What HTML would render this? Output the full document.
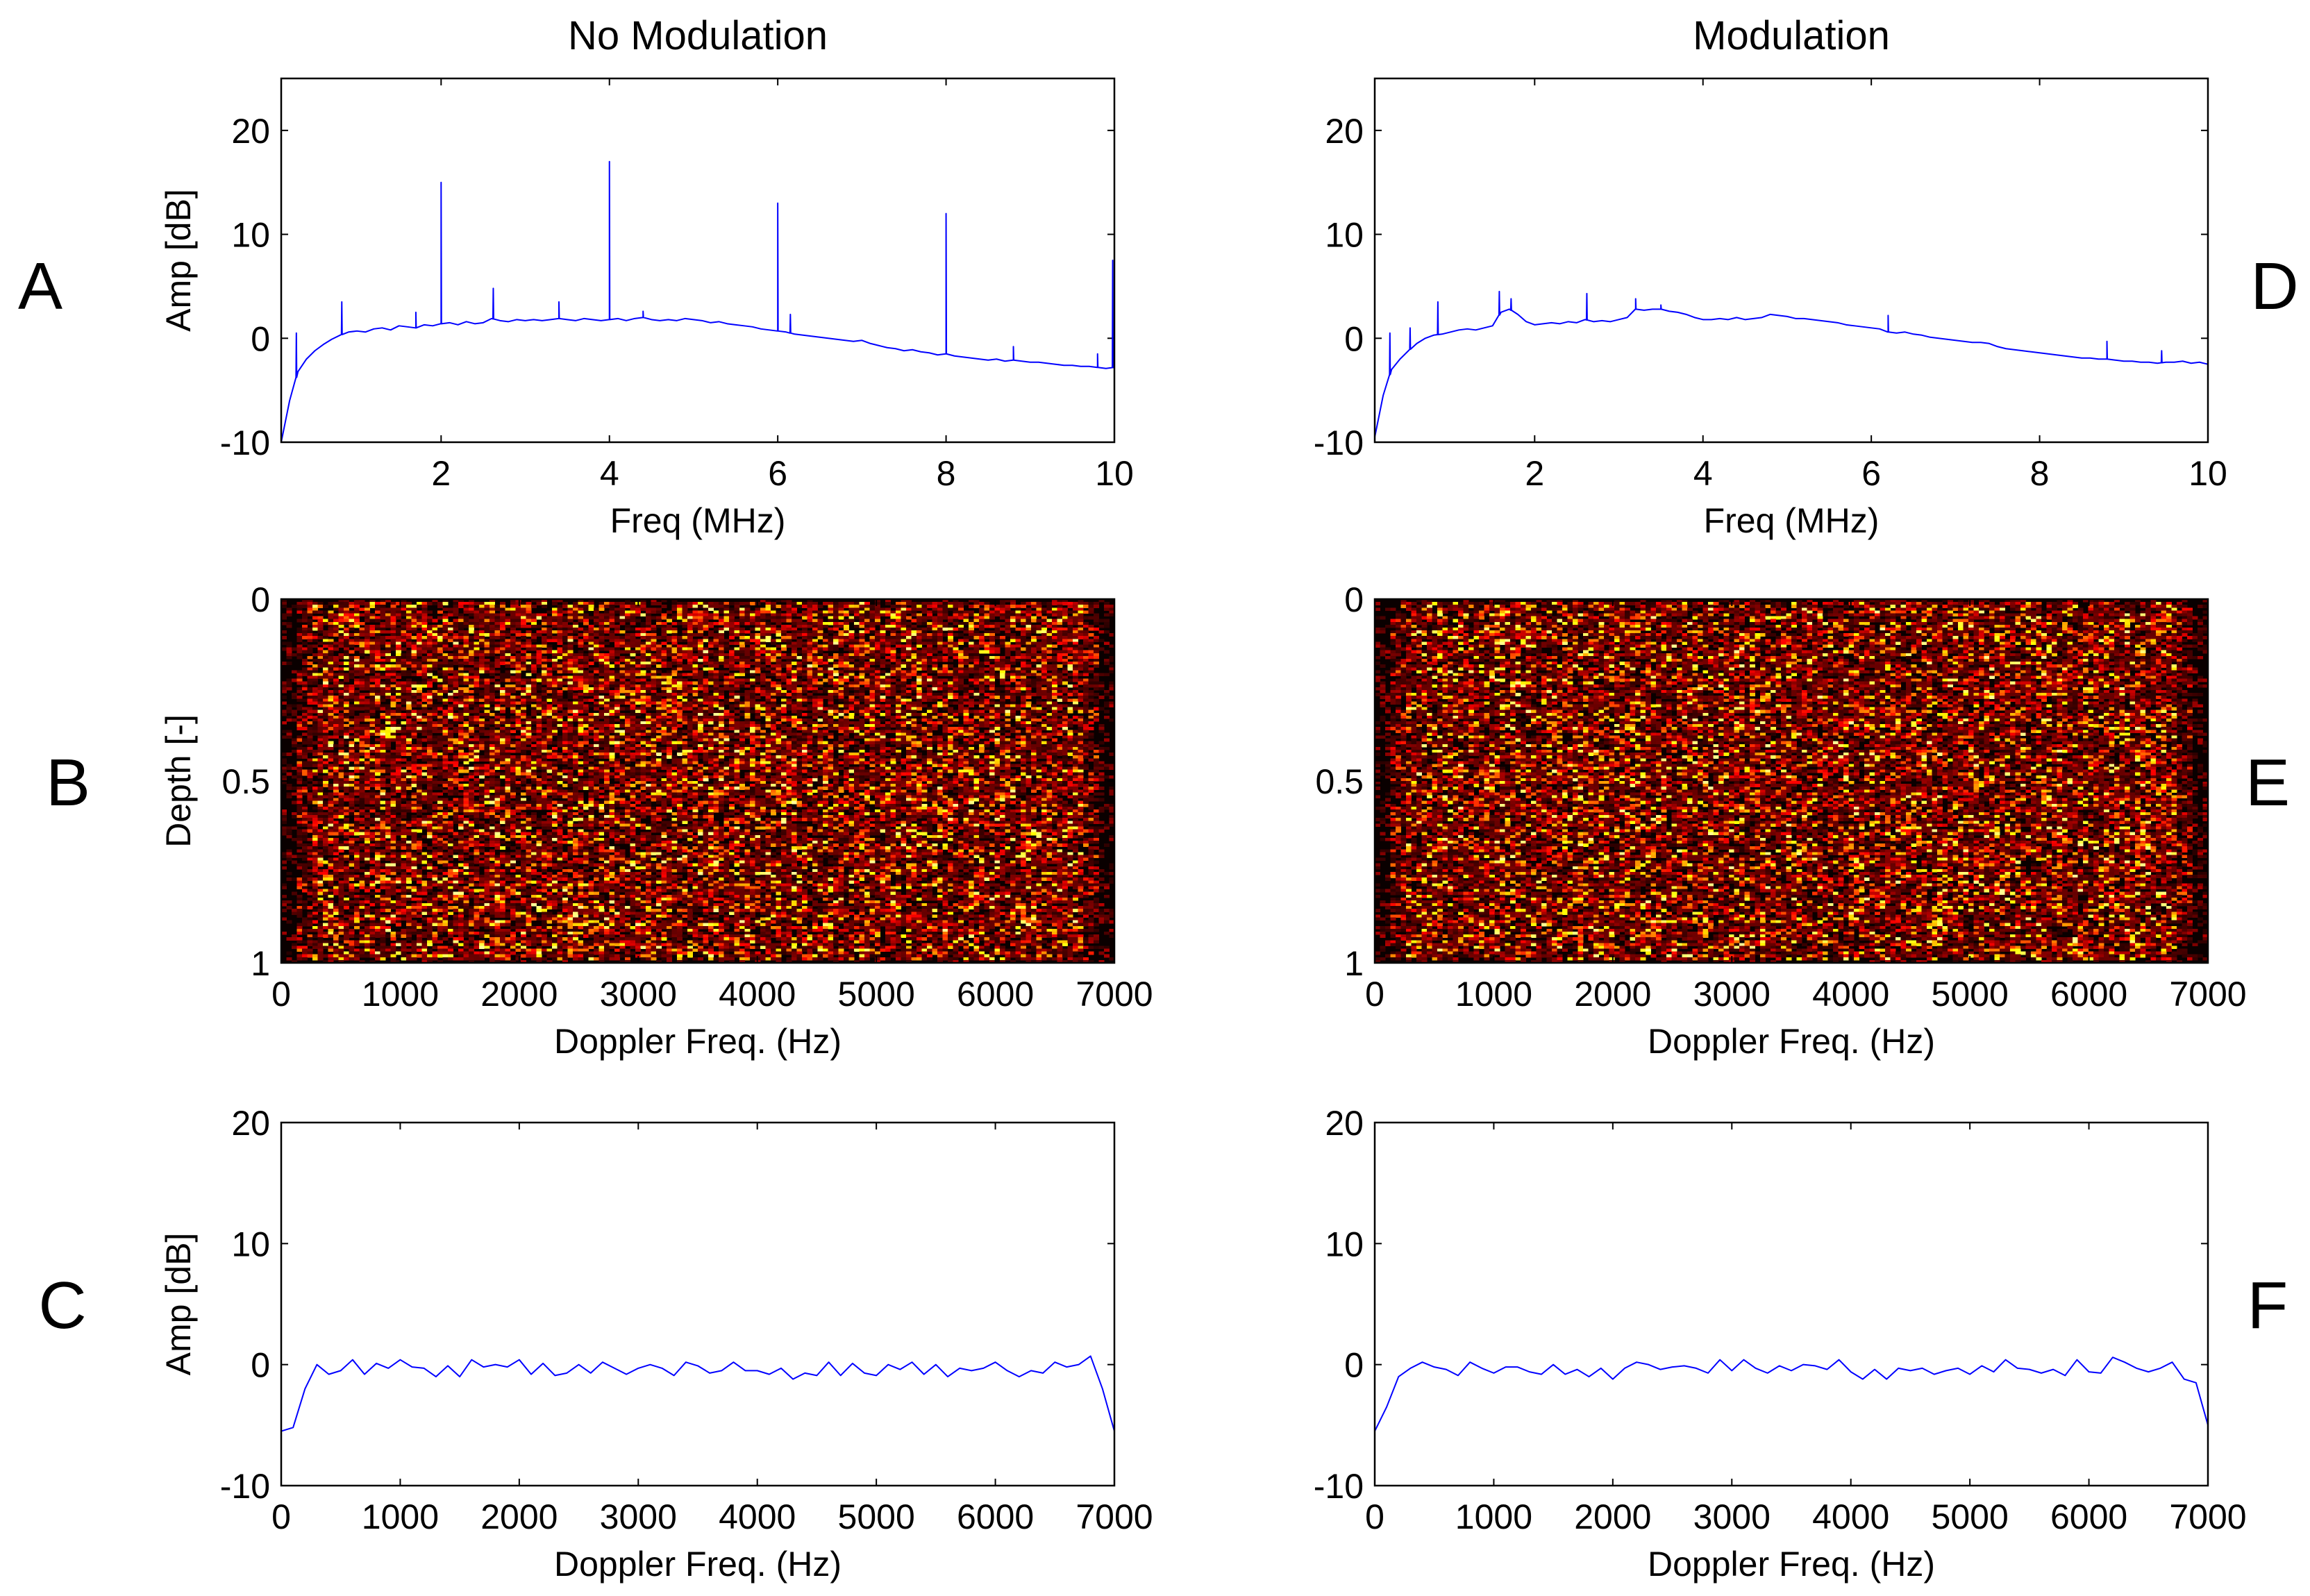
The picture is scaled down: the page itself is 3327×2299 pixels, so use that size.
<!DOCTYPE html>
<html><head><meta charset="utf-8">
<style>
html,body{margin:0;padding:0;background:#fff;}
svg{display:block;font-family:"Liberation Sans",Arial,sans-serif;}
</style></head>
<body>
<svg id="fig" width="3327" height="2299" viewBox="0 0 3327 2299" xmlns="http://www.w3.org/2000/svg">
<rect width="3327" height="2299" fill="#fff"/>
<text x="1005" y="71" font-size="58" text-anchor="middle">No Modulation</text>
<text x="2580" y="71" font-size="58" text-anchor="middle">Modulation</text>
<text x="58" y="445" font-size="96" text-anchor="middle">A</text>
<text x="98" y="1160" font-size="96" text-anchor="middle">B</text>
<text x="90" y="1913" font-size="96" text-anchor="middle">C</text>
<text x="3276" y="445" font-size="96" text-anchor="middle">D</text>
<text x="3266" y="1160" font-size="96" text-anchor="middle">E</text>
<text x="3266" y="1913" font-size="96" text-anchor="middle">F</text>
<g id="plots"></g>
</svg>
<script>
// ---- data ----
const rfFreq = [0.1,0.2,0.3,0.4,0.5,0.6,0.7,0.8,0.9,1.0,1.1,1.2,1.3,1.4,1.5,1.6,1.7,1.8,1.9,2.0,2.1,2.2,2.3,2.4,2.5,2.6,2.7,2.8,2.9,3.0,3.1,3.2,3.3,3.4,3.5,3.6,3.7,3.8,3.9,4.0,4.1,4.2,4.3,4.4,4.5,4.6,4.7,4.8,4.9,5.0,5.1,5.2,5.3,5.4,5.5,5.6,5.7,5.8,5.9,6.0,6.1,6.2,6.3,6.4,6.5,6.6,6.7,6.8,6.9,7.0,7.1,7.2,7.3,7.4,7.5,7.6,7.7,7.8,7.9,8.0,8.1,8.2,8.3,8.4,8.5,8.6,8.7,8.8,8.9,9.0,9.1,9.2,9.3,9.4,9.5,9.6,9.7,9.8,9.9,10.0];
const ampA = [-10,-6,-3.2,-2,-1.2,-0.6,-0.1,0.3,0.6,0.7,0.6,0.9,1.0,0.8,1.2,1.1,1.0,1.3,1.2,1.4,1.5,1.3,1.6,1.4,1.5,1.9,1.7,1.6,1.8,1.7,1.8,1.7,1.8,1.9,1.8,1.7,1.9,1.8,1.7,1.8,1.9,1.7,1.9,2.0,1.8,1.7,1.8,1.7,1.9,1.8,1.7,1.5,1.6,1.4,1.3,1.2,1.1,0.9,0.8,0.7,0.6,0.4,0.3,0.2,0.1,0.0,-0.1,-0.2,-0.3,-0.2,-0.5,-0.7,-0.9,-1.0,-1.2,-1.1,-1.3,-1.4,-1.6,-1.5,-1.7,-1.8,-1.9,-2.0,-2.1,-2.0,-2.2,-2.1,-2.2,-2.3,-2.3,-2.4,-2.5,-2.6,-2.6,-2.7,-2.7,-2.8,-2.9,-2.8];
const spikeFreqA = [0.28,0.82,1.7,2.0,2.62,3.4,4.0,4.4,6.0,6.15,8.0,8.8,9.8,9.98];
const spikeAmpA = [0.5,3.5,2.5,15,4.8,3.5,17,2.6,13,2.3,12,-0.8,-1.5,7.5];
const ampD = [-9.5,-5.5,-3,-2,-1.2,-0.5,0,0.3,0.4,0.6,0.8,0.9,0.8,1.0,1.2,2.5,2.8,2.3,1.6,1.3,1.4,1.5,1.4,1.6,1.5,1.8,1.6,1.7,1.6,1.8,2.0,2.8,2.7,2.8,2.8,2.6,2.5,2.3,2.0,1.8,1.8,1.9,1.8,2.0,1.8,1.9,2.0,2.3,2.2,2.1,1.9,1.9,1.8,1.7,1.6,1.5,1.3,1.2,1.1,1.0,0.9,0.6,0.5,0.6,0.4,0.3,0.1,0.0,-0.1,-0.2,-0.3,-0.4,-0.4,-0.5,-0.8,-1.0,-1.1,-1.2,-1.3,-1.4,-1.5,-1.6,-1.7,-1.8,-1.9,-1.9,-2.0,-2.0,-2.1,-2.2,-2.2,-2.3,-2.3,-2.4,-2.3,-2.3,-2.2,-2.4,-2.3,-2.5];
const spikeFreqD = [0.28,0.52,0.85,1.58,1.72,2.62,3.2,3.5,6.2,8.8,9.45];
const spikeAmpD = [0.5,1.0,3.5,4.5,3.8,4.3,3.8,3.2,2.2,-0.3,-1.2];
const dopFreq = [0,100,200,300,400,500,600,700,800,900,1000,1100,1200,1300,1400,1500,1600,1700,1800,1900,2000,2100,2200,2300,2400,2500,2600,2700,2800,2900,3000,3100,3200,3300,3400,3500,3600,3700,3800,3900,4000,4100,4200,4300,4400,4500,4600,4700,4800,4900,5000,5100,5200,5300,5400,5500,5600,5700,5800,5900,6000,6100,6200,6300,6400,6500,6600,6700,6800,6900,7000];
const ampC = [-5.5,-5.2,-2,0,-0.8,-0.5,0.4,-0.8,0.1,-0.3,0.4,-0.2,-0.3,-1.0,-0.1,-1.0,0.4,-0.2,0,-0.2,0.4,-0.8,0.1,-0.9,-0.7,0.0,-0.7,0.2,-0.3,-0.8,-0.3,0.0,-0.3,-0.9,0.2,-0.1,-0.7,-0.5,0.2,-0.5,-0.5,-0.8,-0.3,-1.2,-0.7,-0.9,0.2,-0.9,0.1,-0.7,-0.9,0,-0.4,0.2,-0.8,0,-1.0,-0.3,-0.5,-0.3,0.2,-0.5,-1.0,-0.5,-0.7,0.2,-0.2,0.0,0.7,-2.0,-5.5];
const ampF = [-5.5,-3.5,-1,-0.3,0.2,-0.2,-0.4,-0.9,0.2,-0.3,-0.7,-0.2,-0.2,-0.6,-0.8,0,-0.8,-0.4,-1.0,-0.3,-1.2,-0.3,0.2,0,-0.4,-0.2,-0.1,-0.3,-0.7,0.4,-0.5,0.4,-0.3,-0.7,-0.1,-0.5,0,-0.1,-0.4,0.4,-0.6,-1.2,-0.4,-1.2,-0.3,-0.5,-0.3,-0.8,-0.5,-0.3,-0.8,-0.1,-0.6,0.4,-0.3,-0.4,-0.7,-0.4,-0.9,0.4,-0.6,-0.7,0.6,0.2,-0.3,-0.6,-0.3,0.2,-1.2,-1.5,-5];
const rfTicks = [2,4,6,8,10];
const ampTicksTop = [-10,0,10,20];
const ampTicksBot = [-10,0,10,20];
const dopTicks = [0,1000,2000,3000,4000,5000,6000,7000];
const depthTicks = [0,0.5,1];
const depthTickLabels = ["0","0.5","1"];
const heatCols = 160, heatRows = 128;

// ---- drawing ----
const NS = "http://www.w3.org/2000/svg";
const root = document.getElementById('plots');
function el(tag, attrs, parent){const e=document.createElementNS(NS,tag);for(const k in attrs)e.setAttribute(k,attrs[k]);(parent||root).appendChild(e);return e;}
const cols = [{x0:405,x1:1605,side:'left'},{x0:1980,x1:3180,side:'right'}];
const rows = [{y0:113,y1:637},{y0:863,y1:1387},{y0:1617,y1:2140}];
const TL=10, FS=50;

function axes(name, c, r, xmin, xmax, ymin, ymax, xt, xtl, yt, ytl, xlabel, ylabel){
  const g = el('g',{});
  
  
  const sx=v=>c.x0+(v-xmin)/(xmax-xmin)*(c.x1-c.x0);
  const sy=v=>r.y1-(v-ymin)/(ymax-ymin)*(r.y1-r.y0);
  xt.forEach((v,i)=>{
    const x=sx(v);
    el('line',{x1:x,x2:x,y1:r.y1,y2:r.y1-TL,stroke:'#000','stroke-width':2},g);
    el('line',{x1:x,x2:x,y1:r.y0,y2:r.y0+TL,stroke:'#000','stroke-width':2},g);
    const t=el('text',{x:x,y:r.y1+62,'font-size':FS,'text-anchor':'middle'},g);
    
    
    t.textContent=xtl[i];
  });
  yt.forEach((v,i)=>{
    const y=sy(v);
    el('line',{x1:c.x0,x2:c.x0+TL,y1:y,y2:y,stroke:'#000','stroke-width':2},g);
    el('line',{x1:c.x1,x2:c.x1-TL,y1:y,y2:y,stroke:'#000','stroke-width':2},g);
    const t=el('text',{x:c.x0-16,y:y+18,'font-size':FS,'text-anchor':'end'},g);
    
    
    t.textContent=ytl[i];
  });
  const xl=el('text',{x:(c.x0+c.x1)/2,y:r.y1+130,'font-size':FS,'text-anchor':'middle'},g);
  
  
  xl.textContent=xlabel;
  if(ylabel){
    const yl=el('text',{x:0,y:0,'font-size':FS,'text-anchor':'middle',transform:`translate(274,${(r.y0+r.y1)/2}) rotate(-90)`},g);
    
    
    yl.textContent=ylabel;
  }
  return {g,sx,sy};
}
function frame(g,c,r){
  const f=el('rect',{x:c.x0,y:r.y0,width:c.x1-c.x0,height:r.y1-r.y0,fill:'none',stroke:'#000','stroke-width':2.5},g);
  
  
}
function spectrum(name,c,freqs,amps,sf,sa,ylabel){
  const r=rows[0];
  const a=axes(name,c,r,0.1,10,-10,25,rfTicks,rfTicks.map(String),ampTicksTop,ampTicksTop.map(String),'Freq (MHz)',ylabel);
  let pts=freqs.map((f,i)=>[f,amps[i]]);
  sf.forEach((f,i)=>{
    let j=0; while(j<freqs.length-2 && freqs[j+1]<f) j++;
    const t=(f-freqs[j])/(freqs[j+1]-freqs[j]);
    const b=amps[j]+t*(amps[j+1]-amps[j]);
    pts.push([f-0.004,b],[f,sa[i]],[f+0.004,b]);
  });
  pts.sort((p,q)=>p[0]-q[0]);
  const p=el('polyline',{points:pts.map(q=>a.sx(Math.min(10,Math.max(0.1,q[0])))+','+a.sy(q[1])).join(' '),fill:'none',stroke:'#0000ff','stroke-width':2,'stroke-linejoin':'round'},a.g);
  
  
  frame(a.g,c,r);
}
function doppler(name,c,amps,ylabel){
  const r=rows[2];
  const a=axes(name,c,r,0,7000,-10,20,dopTicks,dopTicks.map(String),ampTicksBot,ampTicksBot.map(String),'Doppler Freq. (Hz)',ylabel);
  const p=el('polyline',{points:dopFreq.map((f,i)=>a.sx(f)+','+a.sy(amps[i])).join(' '),fill:'none',stroke:'#0000ff','stroke-width':2,'stroke-linejoin':'round'},a.g);
  
  
  frame(a.g,c,r);
}
function hash(i,j,s){let h=(i*374761393+j*668265263+s*982451653)|0;h=(h^(h>>>13))*1274126177|0;h=h^(h>>>16);return (h>>>0)/4294967296;}
function hot(v){const r=Math.min(1,v/0.375),g=Math.max(0,Math.min(1,(v-0.375)/0.375)),b=Math.max(0,Math.min(1,(v-0.75)/0.25));return `rgb(${Math.round(r*255)},${Math.round(g*255)},${Math.round(b*255)})`;}
function heatmap(name,c,seed,ylabel){
  const r=rows[1];
  const a=axes(name,c,r,0,7000,1,0,dopTicks,dopTicks.map(String),depthTicks,depthTickLabels,'Doppler Freq. (Hz)',ylabel);
  const bg=el('rect',{x:c.x0,y:r.y0,width:c.x1-c.x0,height:r.y1-r.y0,fill:'#0a0000'},a.g);
  
  
  const cw=(c.x1-c.x0)/heatCols, ch=(r.y1-r.y0)/heatRows;
  const cells=el('g',{'shape-rendering':'crispEdges'},a.g);
  
  
  for(let j=0;j<heatRows;j++)for(let i=0;i<heatCols;i++){
    let u=hash(i,j,seed);
    let edge=(i<3||i>=heatCols-3||j<1||j>=heatRows-1)?0.3:(i<6||i>=heatCols-6?0.65:1);
    let v=(u<0.4?u*0.3:0.15+Math.pow((u-0.4)/0.6,3)*0.75)*edge;
    if(v<0.06) continue;
    el('rect',{x:(c.x0+i*cw).toFixed(2),y:(r.y0+j*ch).toFixed(2),width:(cw+0.6).toFixed(2),height:(ch+0.6).toFixed(2),fill:hot(v)},cells);
  }
  a.g.querySelectorAll('line').forEach(l=>{a.g.appendChild(l);});
  frame(a.g,c,r);
}
spectrum('plot-a-rf-spectrum',cols[0],rfFreq,ampA,spikeFreqA,spikeAmpA,'Amp [dB]');
spectrum('plot-d-rf-spectrum',cols[1],rfFreq,ampD,spikeFreqD,spikeAmpD,null);
heatmap('plot-b-doppler-map',cols[0],1,'Depth [-]');
heatmap('plot-e-doppler-map',cols[1],2,null);
doppler('plot-c-doppler-spectrum',cols[0],ampC,'Amp [dB]');
doppler('plot-f-doppler-spectrum',cols[1],ampF,null);
</script>
</body></html>
